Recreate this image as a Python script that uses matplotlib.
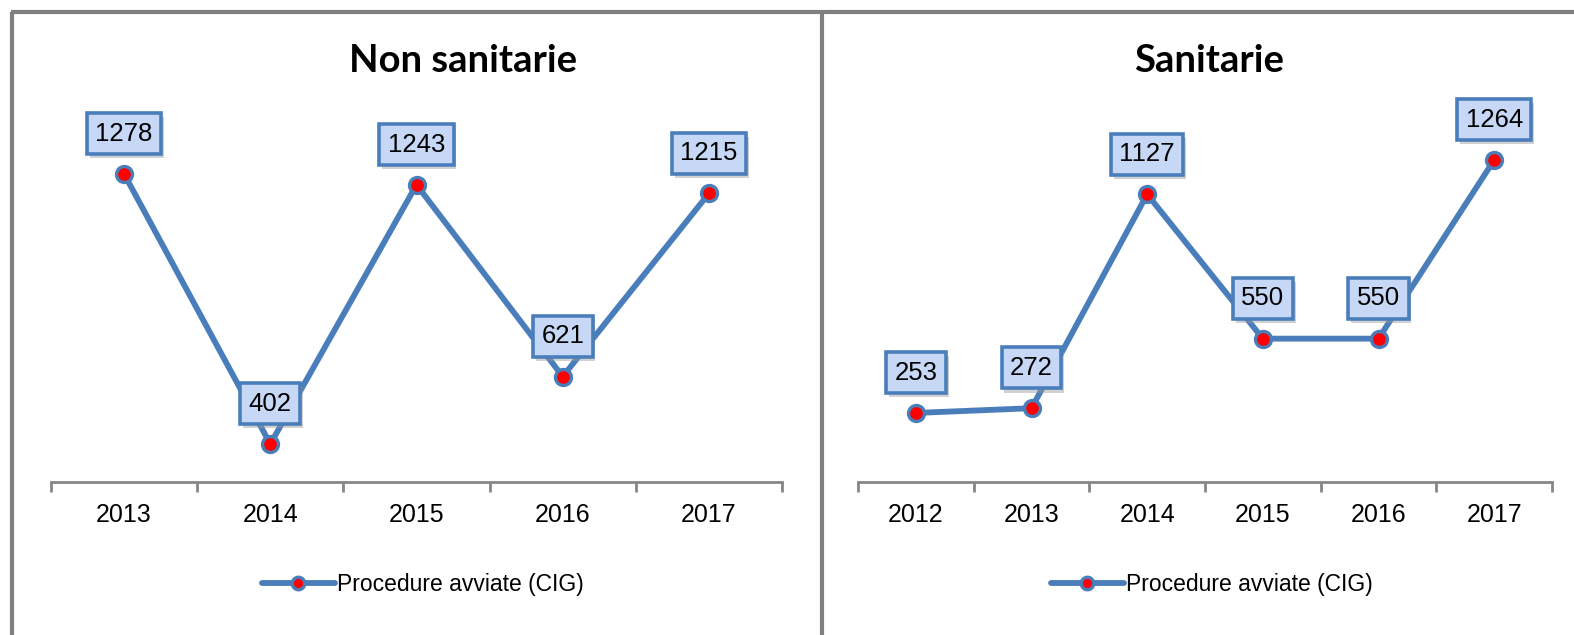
import numpy as np
import matplotlib
matplotlib.use('Agg')
import matplotlib.pyplot as plt
from matplotlib.lines import Line2D
import matplotlib.patheffects as pe

plt.rcParams['font.family'] = ['Liberation Sans', 'DejaVu Sans']

# data
years_ns = ['2013', '2014', '2015', '2016', '2017']
vals_ns = [1278, 402, 1243, 621, 1215]
years_s = ['2012', '2013', '2014', '2015', '2016', '2017']
vals_s = [253, 272, 1127, 550, 550, 1264]
titles = ('Non sanitarie', 'Sanitarie')
series_name = 'Procedure avviate (CIG)'

blue = '#4a7ebb'
gray = '#868686'
W, H = 1574, 635

fig = plt.figure(figsize=(W / 100, H / 100), dpi=100)


def px(x0, x1, ytop, ybot):
    return [x0 / W, 1 - ybot / H, (x1 - x0) / W, (ybot - ytop) / H]


def panel(rect, cats, vals, ylim, title, title_x, leg_x):
    ax = fig.add_axes(rect)
    x = np.arange(len(cats))
    ax.plot(x, vals, '-', color=blue, lw=4.2, marker='o', ms=11.5,
            mfc='red', mec=blue, mew=2.4, solid_capstyle='round', zorder=3)
    ax.set_xlim(-0.5, len(cats) - 0.5)
    ax.set_ylim(*ylim)
    for xi, v in zip(x, vals):
        t = ax.annotate(str(v), (xi, v), xytext=(0, 29), textcoords='offset points',
                        ha='center', va='center', fontsize=18.5, zorder=5,
                        bbox=dict(boxstyle='square,pad=0.33', fc='#c6d8f6', ec=blue, lw=2.6))
        t.get_bbox_patch().set_path_effects([
            pe.SimplePatchShadow(offset=(2, -3), shadow_rgbFace='#999999', alpha=0.45),
            pe.Normal()])
    for s in ('left', 'right', 'top'):
        ax.spines[s].set_visible(False)
    ax.spines['bottom'].set_color(gray)
    ax.spines['bottom'].set_linewidth(2)
    ax.set_yticks([])
    ax.set_xticks(np.arange(len(cats) + 1) - 0.5)
    ax.set_xticklabels([])
    ax.set_xticks(x, minor=True)
    ax.set_xticklabels(cats, minor=True, fontsize=18)
    ax.tick_params(axis='x', which='major', length=7, width=2, color=gray, direction='out')
    ax.tick_params(axis='x', which='minor', length=0, pad=15)
    fig.text(title_x / W, 1 - 61 / H, title, ha='center', va='center',
             fontsize=27.5, fontweight='bold', family=['Lato', 'DejaVu Sans'])
    h = Line2D([], [], color=blue, lw=4.2, marker='o', ms=9, mfc='red', mec=blue,
               mew=2.4, solid_capstyle='round')
    ax.legend([h], [series_name], loc='center', bbox_to_anchor=(leg_x / W, 1 - 585 / H),
              bbox_transform=fig.transFigure, frameon=False, fontsize=16.5,
              handlelength=3.2, handletextpad=0.1, numpoints=1)
    return ax


panel(px(51, 782, 100, 482), years_ns, vals_ns, (279, 1518), titles[0], 463, 423)
panel(px(858, 1552, 100, 482), years_s, vals_s, (-23, 1504), titles[1], 1209, 1212)

# outer frame lines
fl = dict(color='#808080', lw=3, transform=fig.transFigure, solid_capstyle='butt')
fig.add_artist(Line2D([11 / W, 1], [1 - 12 / H, 1 - 12 / H], **fl))
fig.add_artist(Line2D([12 / W, 12 / W], [0, 1 - 12 / H], **fl))
fig.add_artist(Line2D([822 / W, 822 / W], [0, 1 - 12 / H], **fl))

fig.savefig('out.png', dpi=100)
